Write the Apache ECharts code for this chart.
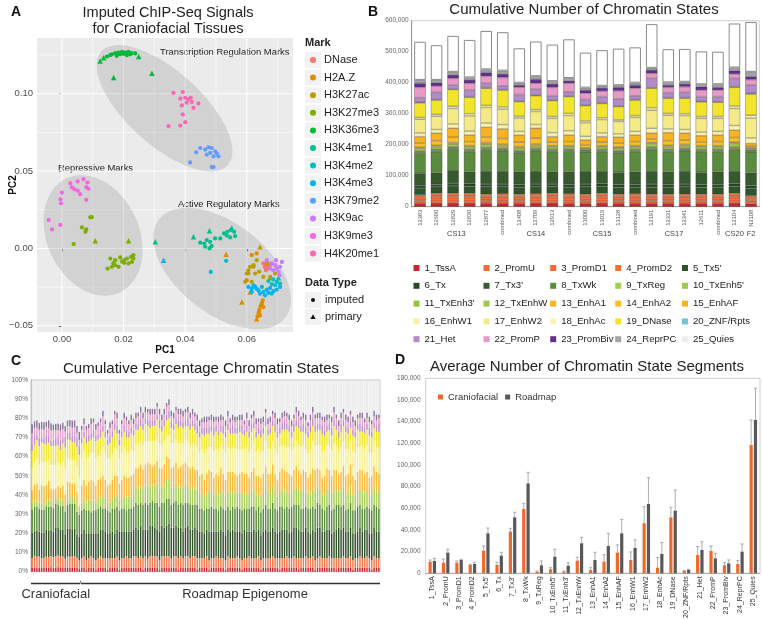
<!DOCTYPE html>
<html><head><meta charset="utf-8">
<script src="https://cdn.jsdelivr.net/npm/echarts@6/dist/echarts.min.js"></script>
<style>html,body{margin:0;padding:0;background:#fff}#c{width:762px;height:619px}</style>
</head><body><div id="c"></div><script>
// ================= DATA =================
// ---- Panel A : PCA of imputed ChIP-seq signals ([PC1, PC2, primary?]) ----
const marks = ['DNase','H2A.Z','H3K27ac','H3K27me3','H3K36me3','H3K4me1','H3K4me2','H3K4me3','H3K79me2','H3K9ac','H3K9me3','H4K20me1'];
const ptsDNase = [[0.0659,-0.0119,0],[0.0665,-0.0108,0],[0.0670,-0.0130,0],[0.0662,-0.0141,0],[0.0673,-0.0114,0],[0.0654,-0.0097,0],[0.0667,-0.0093,0],[0.0678,-0.0102,0],[0.0661,-0.0125,0],[0.0668,-0.0120,0],[0.0664,-0.0112,1]];
const ptsH2AZ = [[0.0652,-0.0335,0],[0.0649,-0.0353,0],[0.0645,-0.0374,0],[0.0641,-0.0396,0],[0.0638,-0.0418,0],[0.0635,-0.0439,0],[0.0632,-0.0455,1],[0.0643,-0.0433,0],[0.0654,-0.0379,0],[0.0584,-0.0346,1],[0.0611,-0.0281,1],[0.0605,-0.0162,0],[0.0622,-0.0119,0],[0.0533,-0.0037,1],[0.0600,-0.0205,0],[0.0676,-0.0184,0],[0.0616,-0.0043,0],[0.0632,-0.0032,0],[0.0648,-0.0362,0],[0.0640,-0.0410,0]];
const ptsH3K27ac = [[0.0605,-0.0141,0],[0.0622,-0.0108,0],[0.0632,-0.0076,0],[0.0643,0.0011,1],[0.0627,-0.0162,0],[0.0654,-0.0184,0],[0.0676,-0.0195,0],[0.0616,-0.0216,0],[0.0595,-0.0216,0],[0.0665,-0.0097,0],[0.0692,-0.0162,0],[0.0600,-0.0162,0],[0.0611,-0.0119,0],[0.0640,-0.0150,0]];
const ptsH3K27me3 = [[0.0092,0.0201,0],[0.0097,0.0203,0],[0.0065,0.0136,0],[0.0079,0.0123,0],[0.0076,0.0108,0],[0.0038,0.0028,0],[0.0108,0.0050,1],[0.0216,0.0050,1],[0.0157,-0.0065,0],[0.0173,-0.0076,0],[0.0189,-0.0058,0],[0.0202,-0.0076,0],[0.0211,-0.0065,0],[0.0224,-0.0054,0],[0.0232,-0.0065,0],[0.0227,-0.0087,0],[0.0216,-0.0097,0],[0.0202,-0.0093,0],[0.0173,-0.0108,0],[0.0162,-0.0119,0],[0.0148,-0.0130,0],[0.0184,-0.0119,0],[0.0232,-0.0043,0],[0.0195,-0.0085,0],[0.0167,-0.0095,0]];
const ptsH3K36me3 = [[0.0157,0.1249,0],[0.0173,0.1262,0],[0.0184,0.1266,0],[0.0195,0.1271,0],[0.0205,0.1266,0],[0.0216,0.1271,0],[0.0227,0.1262,0],[0.0238,0.1260,0],[0.0146,0.1240,0],[0.0189,0.1255,0],[0.0211,0.1249,0],[0.0178,0.1245,0],[0.0200,0.1258,0],[0.0162,0.1255,0],[0.0222,0.1255,0],[0.0124,0.1212,1],[0.0135,0.1232,1],[0.0249,0.1240,1],[0.0168,0.1104,1],[0.0292,0.1132,1]];
const ptsH3K4me1 = [[0.0427,0.0076,1],[0.0449,0.0037,0],[0.0462,0.0032,0],[0.0470,0.0054,0],[0.0465,0.0011,0],[0.0479,0.0000,0],[0.0486,0.0015,0],[0.0481,0.0043,0],[0.0479,0.0115,1],[0.0497,0.0065,0],[0.0514,0.0065,0],[0.0526,0.0097,0],[0.0537,0.0108,0],[0.0548,0.0119,0],[0.0559,0.0108,0],[0.0562,0.0080,0],[0.0546,0.0071,0],[0.0535,0.0084,0],[0.0551,0.0132,1],[0.0303,0.0043,1]];
const ptsH3K4me2 = [[0.0533,-0.0080,0],[0.0697,-0.0216,0],[0.0708,-0.0227,0],[0.0686,-0.0200,0],[0.0670,-0.0211,0],[0.0703,-0.0189,1],[0.0681,-0.0230,0]];
const ptsH3K4me3 = [[0.0330,-0.0076,1],[0.0483,-0.0152,0],[0.0605,-0.0249,0],[0.0616,-0.0260,0],[0.0627,-0.0249,0],[0.0638,-0.0271,0],[0.0649,-0.0249,0],[0.0654,-0.0281,0],[0.0665,-0.0266,0],[0.0676,-0.0255,0],[0.0686,-0.0276,0],[0.0697,-0.0266,0],[0.0708,-0.0249,0],[0.0616,-0.0281,0],[0.0643,-0.0292,0],[0.0659,-0.0303,0],[0.0670,-0.0287,0],[0.0681,-0.0292,0],[0.0622,-0.0238,0],[0.0692,-0.0238,0],[0.0632,-0.0260,0]];
const ptsH3K79me2 = [[0.0449,0.0649,0],[0.0465,0.0639,0],[0.0476,0.0654,0],[0.0486,0.0649,0],[0.0497,0.0628,0],[0.0503,0.0613,0],[0.0481,0.0617,0],[0.0470,0.0606,0],[0.0492,0.0595,0],[0.0508,0.0595,0],[0.0436,0.0621,0],[0.0416,0.0556,0],[0.0486,0.0526,0],[0.0492,0.0526,0]];
const ptsH3K9ac = [[0.0681,-0.0097,0],[0.0692,-0.0108,0],[0.0697,-0.0130,0],[0.0708,-0.0119,0],[0.0703,-0.0152,0],[0.0686,-0.0141,0],[0.0714,-0.0087,0],[0.0676,-0.0130,0],[0.0665,-0.0076,0],[0.0695,-0.0076,0],[0.0706,-0.0173,0]];
const ptsH3K9me3 = [[0.0027,0.0422,0],[0.0032,0.0396,0],[0.0051,0.0433,0],[0.0070,0.0448,0],[0.0083,0.0426,0],[0.0079,0.0396,0],[0.0051,0.0374,0],[0.0059,0.0351,0],[0.0086,0.0385,0],[0.0000,0.0361,0],[-0.0005,0.0318,0],[-0.0003,0.0292,0],[0.0079,0.0314,0],[-0.0043,0.0184,0],[-0.0032,0.0123,0],[-0.0005,0.0152,0],[0.0040,0.0383,0]];
const ptsH4K20me1 = [[0.0362,0.1006,0],[0.0392,0.1011,0],[0.0384,0.0968,0],[0.0400,0.0974,0],[0.0418,0.0974,0],[0.0422,0.0946,0],[0.0405,0.0942,0],[0.0389,0.0924,0],[0.0427,0.0909,0],[0.0443,0.0937,0],[0.0392,0.0866,0],[0.0384,0.0794,0],[0.0400,0.0816,0],[0.0346,0.0790,0],[0.0411,0.0963,0]];
const markPoints = [ptsDNase,ptsH2AZ,ptsH3K27ac,ptsH3K27me3,ptsH3K36me3,ptsH3K4me1,ptsH3K4me2,ptsH3K4me3,ptsH3K79me2,ptsH3K9ac,ptsH3K9me3,ptsH4K20me1];
const pcXTicks = [0, 0.02, 0.04, 0.06];
const pcXMinor = [0.01, 0.03, 0.05, 0.07];
const pcYTicks = [-0.05, 0, 0.05, 0.10];
const pcYMinor = [-0.025, 0.025, 0.075, 0.125];
const clusterNames = ['Transcription Regulation Marks','Repressive Marks','Active Regulatory Marks'];
const clusterCenters = [[0.0333,0.0906],[0.0101,0.0084],[0.0520,-0.0130]];

// ---- Panel B : cumulative number of chromatin states (thousands) ----
const samples = ['12383','12690','12829','12830','12877','combined','12408','12709','12913','combined','13000','13019','13128','combined','12191','12331','12341','12611','combined','12104','N2108'];
const stageLabels = ['CS13','CS14','CS15','CS17','CS20','F2'];
const stageAt = [2.2, 7, 11, 15.35, 19, 20];
const states = ['1_TssA','2_PromU','3_PromD1','4_PromD2',"5_Tx5'",'6_Tx',"7_Tx3'",'8_TxWk','9_TxReg',"10_TxEnh5'","11_TxEnh3'",'12_TxEnhW','13_EnhA1','14_EnhA2','15_EnhAF','16_EnhW1','17_EnhW2','18_EnhAc','19_DNase','20_ZNF/Rpts','21_Het','22_PromP','23_PromBiv','24_ReprPC','25_Quies'];
const bTssA   =[11,12,12,12,11,11,11,12,12,11,11,12,11,11,11,11,11,11,11,12,10];
const bPromU  =[10,11,11,11,10,11,10,10,11,11,10,11,10,11,10,10,11,10,10,11,9];
const bPromD1 =[9,11,11,11,11,10,11,10,11,10,10,11,11,10,10,11,10,10,11,11,9];
const bPromD2 =[8,9,9,9,8,9,8,9,9,9,9,9,8,9,9,8,8,9,8,9,7];
const bTx5    =[22,21,24,22,24,23,23,23,22,22,24,22,22,22,23,23,24,22,23,22,24];
const bTx     =[9,8,9,9,9,9,9,9,8,9,9,9,9,9,10,9,9,9,9,9,9];
const bTx3    =[39,38,42,39,42,42,41,42,40,41,42,41,40,41,42,41,42,40,41,41,42];
const bTxWk   =[64,67,68,64,68,66,61,66,64,66,62,62,63,64,70,64,66,66,64,70,67];
const bTxReg  =[2,2,2,2,2,2,2,2,2,2,1,2,2,2,2,2,2,2,2,2,1];
const bTxEnh5 =[3,4,3,4,4,3,3,3,4,3,3,4,3,4,4,4,3,4,4,4,3];
const bTxEnh3 =[2,2,2,2,2,2,2,2,2,2,1,2,2,2,2,2,2,2,2,2,1];
const bTxEnhW =[9,9,9,9,11,9,9,9,9,8,6,9,9,9,11,9,9,9,9,11,6];
const bEnhA1  =[4,4,5,3,5,5,4,5,3,3,2,3,3,3,3,4,4,3,3,4,2];
const bEnhA2  =[13,15,17,13,18,18,14,19,11,13,9,11,12,13,11,15,14,12,13,15,5];
const bEnhAF  =[21,24,29,21,31,31,23,32,18,21,16,18,19,21,19,26,22,20,21,24,9];
const bEnhW1  =[12,12,14,13,14,14,12,12,13,14,12,12,11,12,16,12,12,12,12,15,18];
const bEnhW2  =[44,43,50,49,50,50,43,42,46,49,44,43,40,45,58,44,45,44,42,55,64];
const bEnhAc  =[6,6,7,7,7,7,6,6,6,7,6,6,5,6,8,6,6,6,6,8,9];
const bDNase  =[47,46,54,53,55,54,47,45,51,54,49,46,43,50,63,49,50,47,46,60,68];
const bZNF    =[2,2,2,2,2,2,2,2,2,2,2,2,2,2,2,2,2,2,2,2,3];
const bHet    =[15,23,12,21,14,12,21,19,13,14,18,20,23,12,30,16,17,15,16,27,27];
const bPromP  =[33,20,22,22,23,27,23,19,28,27,20,18,26,24,16,17,18,21,21,14,17];
const bPromBiv=[13,11,11,11,12,11,7,13,11,8,10,10,11,10,11,7,9,11,9,11,10];
const bReprPC =[11,9,10,8,10,11,8,10,9,9,8,7,7,8,7,9,7,8,10,10,15];
const bQuies  =[123,112,116,121,124,124,111,112,118,125,113,115,118,114,141,107,106,106,105,142,161];
const bData = [bTssA,bPromU,bPromD1,bPromD2,bTx5,bTx,bTx3,bTxWk,bTxReg,bTxEnh5,bTxEnh3,bTxEnhW,bEnhA1,bEnhA2,bEnhAF,bEnhW1,bEnhW2,bEnhAc,bDNase,bZNF,bHet,bPromP,bPromBiv,bReprPC,bQuies];
const UNIT = 1000;

// ---- Panel C : cumulative percentage, Roadmap epigenomes (percent per state group) ----
const rTssA = [2,2,1,2,2, 2,1,2,2,2, 2,1,2,2,2, 2,1,2,2,2, 2,2,
 2,2,2,2,1, 2,2,2,2,2, 2,1,2,2,2, 2,2,2,2,1, 2,2,2,2,2, 2,2,1,2,
 2,2,2,1,2, 2,2,2,2,2, 1,2,2,2,2, 2,2,1,2,2, 2,2,2,2,2, 1,2,2,2,
 2,2,2,2,1, 2,2,2,2,2, 2,2,1,2,2, 2,2,2,2,1, 2,2,2,2,2, 2,2,2,1,2, 2,2,2,2,2, 1,2,2,2,2, 2,2,2,1,2, 2,2];
const rProm = [5,6,5,5,6, 5,5,5,6,5, 5,6,5,5,5, 6,5,5,5,6, 5,5,
 6,6,5,6,6, 6,5,6,6,6, 6,5,6,6,6, 6,5,6,6,6, 6,5,6,6,5, 6,6,6,5,
 5,5,6,5,5, 5,6,5,5,5, 5,6,5,5,5, 6,5,5,5,5, 6,5,5,5,6, 5,5,5,5,
 5,6,5,5,6, 5,5,6,5,5, 6,5,6,5,5, 6,5,5,6,5, 5,6,5,5,5, 6,5,5,6,5, 5,6,5,5,6, 5,5,5,6,5, 5,6,5,5,6, 5,5];
const rTx = [13,14,14,13,12, 13,14,13,14,15, 14,13,13,14,13, 14,15,14,14,13, 14,14,
 14,15,15,16,15, 14,15,16,16,15, 14,15,16,15,16, 17,16,15,16,16, 15,14,15,16,15, 14,15,15,14,
 14,13,14,15,14, 14,13,14,15,14, 13,14,14,15,14, 13,14,14,15,14, 13,14,15,14,14, 13,14,15,14,
 14,15,14,13,14, 15,15,14,13,14, 15,16,15,14,14, 15,14,13,14,15, 16,15,14,14,15, 14,13,14,15,16, 15,15,14,14,15, 14,13,14,15,14, 15,14,13,14,15, 14,14];
const rTxWk = [12,11,12,12,11, 12,12,13,12,11, 12,12,11,12,13, 12,11,12,12,11, 12,12,
 12,13,13,12,13, 14,13,12,13,13, 14,13,12,13,14, 13,12,13,13,12, 13,14,13,12,13, 13,12,13,12,
 12,12,11,12,13, 12,12,11,12,12, 13,12,11,12,12, 13,12,12,11,12, 12,13,12,11,12, 12,12,13,12,
 12,13,12,12,13, 12,11,12,13,13, 12,12,13,12,12, 11,12,13,12,12, 13,12,12,11,12, 13,12,12,13,12, 12,12,11,12,13, 12,12,13,12,12, 11,12,13,12,12, 13,12];
const rTxEnh = [4,5,4,5,6, 5,4,5,5,6, 5,4,5,5,6, 6,5,5,6,7, 6,6,
 7,8,8,9,8, 9,10,9,8,9, 10,9,8,9,10, 10,9,8,9,9, 8,9,10,9,8, 9,8,8,7,
 8,7,8,9,8, 7,8,8,9,8, 7,8,9,8,8, 7,8,9,8,8, 7,8,9,8,7, 8,8,9,8,
 8,9,8,7,8, 9,9,8,8,7, 8,9,8,8,9, 8,7,8,9,9, 8,8,7,8,9, 8,8,9,8,7, 8,9,8,8,9, 8,7,8,8,9, 8,8,7,8,9, 8,8];
const rEnhA = [9,10,9,10,11, 10,9,10,10,11, 10,9,10,10,11, 10,9,10,11,10, 10,11,
 10,10,11,11,10, 11,12,11,10,11, 12,11,10,11,12, 11,10,11,11,10, 11,12,11,10,11, 11,10,10,10,
 10,9,10,11,10, 9,10,10,11,10, 9,10,11,10,10, 9,10,11,10,10, 9,10,11,10,9, 10,10,11,10,
 10,11,10,9,10, 11,11,10,10,9, 10,11,10,10,11, 10,9,10,11,11, 10,10,9,10,11, 10,10,11,10,9, 10,11,10,10,11, 10,9,10,10,11, 10,10,9,10,11, 10,10];
const rEnhWeak = [14,15,14,13,14, 15,14,13,14,15, 14,14,13,14,15, 14,13,14,15,14, 13,14,
 12,12,13,12,13, 12,11,12,13,12, 12,13,12,12,11, 12,13,12,12,13, 12,11,12,13,12, 12,13,12,12,
 13,14,13,12,13, 14,13,13,12,13, 14,13,12,13,13, 14,13,12,13,14, 13,12,13,13,14, 13,12,13,13,
 13,12,13,14,13, 12,13,13,14,13, 12,13,13,14,13, 12,13,13,14,13, 12,13,14,13,12, 13,13,14,13,12, 13,13,14,13,12, 13,14,13,12,13, 13,14,13,12,13, 13,14];
const rDNase = [8,7,8,8,7, 8,9,8,7,8, 8,7,8,8,9, 8,7,8,8,7, 8,8,
 8,8,7,8,8, 9,8,7,8,8, 9,8,7,8,8, 9,8,7,8,8, 9,8,7,8,8, 9,8,7,8,
 8,9,8,7,8, 8,9,8,7,8, 8,9,8,7,8, 8,9,8,7,8, 8,9,8,7,8, 8,9,8,7,
 8,8,9,8,7, 8,8,9,8,7, 8,8,9,8,7, 8,8,9,8,7, 8,8,9,8,7, 8,8,9,8,7, 8,8,9,8,7, 8,8,9,8,7, 8,8,9,8,7, 8,8];
const rHet = [3,3,4,3,3, 4,3,3,4,3, 3,3,4,3,3, 4,3,3,3,4, 3,3,
 3,3,3,4,3, 3,3,4,3,3, 3,4,3,3,3, 4,3,3,3,4, 3,3,3,4,3, 3,3,4,3,
 3,4,3,3,3, 4,3,3,3,4, 3,3,3,4,3, 3,3,4,3,3, 3,4,3,3,3, 4,3,3,3,
 3,3,4,3,3, 3,4,3,3,3, 4,3,3,3,4, 3,3,3,4,3, 3,3,4,3,3, 3,4,3,3,3, 4,3,3,3,4, 3,3,3,4,3, 3,3,4,3,3, 3,4];
const rPromP = [4,4,3,4,5, 4,3,4,4,5, 4,3,4,4,5, 4,3,4,4,5, 4,4,
 3,3,4,3,3, 3,4,3,3,3, 4,3,3,3,4, 3,3,3,4,3, 3,3,4,3,3, 3,4,3,3,
 3,3,3,4,3, 3,3,4,3,3, 3,4,3,3,3, 4,3,3,3,4, 3,3,3,4,3, 3,3,4,3,
 3,3,3,4,3, 3,3,4,3,3, 3,4,3,3,3, 4,3,3,3,4, 3,3,3,4,3, 3,3,4,3,3, 3,4,3,3,3, 4,3,3,3,4, 3,3,3,4,3, 3,3];
const rRepr = [2,3,2,2,3, 2,3,2,2,3, 2,2,3,2,2, 3,2,2,3,2, 2,3,
 3,3,2,3,3, 3,2,3,3,3, 2,3,3,3,2, 3,3,3,2,3, 3,3,2,3,3, 3,2,3,3,
 2,3,3,2,3, 3,2,3,3,2, 3,3,2,3,3, 2,3,3,2,3, 3,2,3,3,2, 3,3,2,3,
 3,2,3,3,2, 3,3,2,3,3, 2,3,3,2,3, 3,2,3,3,2, 3,3,2,3,3, 2,3,3,2,3, 3,2,3,3,2, 3,3,2,3,3, 2,3,3,2,3, 3,2];
const roadmapData = [rTssA,rProm,rTx,rTxWk,rTxEnh,rEnhA,rEnhWeak,rDNase,rHet,rPromP,rRepr];
const roadmapIds = [];
for (let i = 1; i <= 129; i++) { if (i !== 60 && i !== 64) roadmapIds.push('E' + String(i).padStart(3,'0')); }
const cGroupNames = ['TssA','Prom','Tx','TxWk','TxEnh','EnhA','EnhWeak','DNase','Het','PromP','Repr','Quies'];
const cGroupStates = [[0],[1,2,3],[4,5,6],[7],[8,9,10,11],[12,13,14],[15,16,17],[18],[19,20],[21],[22,23],[24]];

// ---- Panel D : average number of chromatin state segments (thousands) ----
const dCranio    = [10.8,9.8,9.8,7.7,20.9,7.7,38.5,59.4,1.5,3.7,1.5,11.7,3.1,10.8,19.1,12.3,46.2,5.2,51.7,2.2,16.9,20.6,7.4,8.6,118.5];
const dCranioErr = [1.5,3.4,1.6,0.6,4.3,2.5,3.0,5.2,0.7,1.5,0.7,3.1,2.1,6.4,7.1,7.4,15.3,9.3,9.2,0.3,7.7,4.6,2.4,3.1,23.0];
const dRoad      = [11.4,19.1,12.3,8.6,36.9,16.3,51.7,83.0,7.4,15.4,7.1,27.7,12.3,25.2,36.9,23.4,64.0,17.8,57.8,3.1,21.5,13.8,9.2,20.0,141.5];
const dRoadErr   = [2.4,3.1,0.6,1.6,4.9,3.1,4.6,10.2,4.0,6.8,2.7,5.5,7.1,11.7,12.9,7.4,24.3,10.5,19.1,0.6,7.7,4.7,3.1,7.1,29.3];

// ================= STYLE =================
const FF = '"Liberation Sans", Arial, Helvetica, sans-serif';
const markColors = ['#F8766D','#DE8C00','#B79F00','#7CAE00','#00BA38','#00C08B','#00BFC4','#00B4F0','#619CFF','#C77CFF','#F564E3','#FF64B0'];
const stateColors = ['#c8262f','#f26a3a','#f46a3a','#f0733f','#2f5429','#2a4a25','#365a2e','#5b8b3e','#a3cd55','#a0cb50','#96c244','#9ec84c','#f9b51a','#fbbd2a','#f8b321','#f8f2ad','#f4eb88','#f8f3b6','#f2e42c','#6fc6d8','#b38bc8','#e79ac6','#633090','#a5a5a5','#ffffff'];
const cGroupColors = ['#c8262f','#f27a4c','#33512b','#5b8b3e','#a6cf58','#f9bb35','#f6ef97','#f2e530','#bb92cc','#e8a2c9','#857496','#ffffff'];
const ellipseShapes = [[85,37,42],[63,46,65],[80,45,38]]; // px semi-axes & rotation

// ================= BUILD =================
const nB = samples.length;
const cCats = samples.map((s,i)=>'cf'+i+'_'+s).concat(roadmapIds);
const cSeriesData = cGroupNames.map(()=>[]);
for (let j = 0; j < nB; j++) {
  let tot = 0; bData.forEach(a => tot += a[j]);
  cGroupStates.forEach((idx, g) => { let s = 0; idx.forEach(k => s += bData[k][j]); cSeriesData[g].push(+(s/tot*100).toFixed(2)); });
}
for (let j = 0; j < roadmapIds.length; j++) {
  let s = 0;
  roadmapData.forEach((a, g) => { const v = a[j] || 0; s += v; cSeriesData[g].push(v); });
  cSeriesData[11].push(Math.max(0, 100 - s));
}

const gridLinesA = [].concat(
  pcXTicks.map(v=>[v,0,0,1]), pcXMinor.map(v=>[v,0,0,0]),
  pcYTicks.map(v=>[0,v,1,1]), pcYMinor.map(v=>[0,v,1,0]));

const fmtPC = v => v.toFixed(2).replace('-', '\u2212');
const series = [];
series.push({type:'custom', name:'_grid', xAxisIndex:0, yAxisIndex:0, z:1, silent:true, data:gridLinesA,
  renderItem:(p, api) => {
    const cs = p.coordSys, orient = api.value(2), major = api.value(3);
    const st = {stroke:'#ffffff', lineWidth: major ? 1.1 : 0.55};
    if (orient === 0) { const x = api.coord([api.value(0), 0])[0]; return {type:'line', shape:{x1:x,y1:cs.y,x2:x,y2:cs.y+cs.height}, style:st}; }
    const y = api.coord([0, api.value(1)])[1]; return {type:'line', shape:{x1:cs.x,y1:y,x2:cs.x+cs.width,y2:y}, style:st};
  }});
series.push({type:'custom', name:'_ellipses', xAxisIndex:0, yAxisIndex:0, z:2, silent:true,
  data: clusterCenters.map((c,i)=>[c[0], c[1], i]),
  renderItem:(p, api) => {
    const c = api.coord([api.value(0), api.value(1)]);
    const [a, b, ang] = ellipseShapes[p.dataIndex];
    const t = ang*Math.PI/180, pts = [];
    for (let k = 0; k < 90; k++) { const th = k/90*2*Math.PI, ex = a*Math.cos(th), ey = b*Math.sin(th);
      pts.push([c[0]+ex*Math.cos(t)-ey*Math.sin(t), c[1]+ex*Math.sin(t)+ey*Math.cos(t)]); }
    const cs = p.coordSys;
    return {type:'polygon', shape:{points:pts}, style:{fill:'rgba(128,128,128,0.24)'},
      clipPath:{type:'rect', shape:{x:cs.x, y:cs.y, width:cs.width, height:cs.height}}};
  }});
marks.forEach((m, i) => series.push({type:'scatter', name:m, xAxisIndex:0, yAxisIndex:0, z:3,
  data: markPoints[i], symbol: v => v[2] ? 'triangle' : 'circle', symbolSize: v => v[2] ? 5.5 : 4.2,
  itemStyle:{color:markColors[i], opacity:1}, emphasis:{disabled:true}}));

states.forEach((s, k) => series.push({type:'bar', name:s, xAxisIndex:1, yAxisIndex:1, stack:'B', barWidth:'70%',
  data: bData[k].map(v => v*UNIT),
  itemStyle:{color:stateColors[k], borderColor: k===24 ? '#8a8a8a' : 'rgba(30,30,30,0.55)', borderWidth: k===24 ? 1 : 0.5},
  emphasis:{disabled:true}}));

cGroupNames.forEach((g, k) => series.push({type:'bar', name:'C ' + g, xAxisIndex:2, yAxisIndex:2, stack:'C', barCategoryGap:'38%',
  data: cSeriesData[k],
  itemStyle:{color:cGroupColors[k], borderColor: k===11 ? '#d9d9d9' : 'transparent', borderWidth: k===11 ? 0.5 : 0},
  emphasis:{disabled:true}, silent:true}));

series.push({type:'bar', name:'Craniofacial', xAxisIndex:3, yAxisIndex:3, barWidth:3.2, barGap:'35%', data:dCranio.map(v=>v*UNIT), itemStyle:{color:'#ee6a2b'}, emphasis:{disabled:true}});
series.push({type:'bar', name:'Roadmap', xAxisIndex:3, yAxisIndex:3, barWidth:3.2, barGap:'35%', data:dRoad.map(v=>v*UNIT), itemStyle:{color:'#58585a'}, emphasis:{disabled:true}});
function errSeries(vals, errs, off) {
  return {type:'custom', name:'_err', xAxisIndex:3, yAxisIndex:3, z:5, silent:true,
    data: vals.map((v,i)=>[i, v*UNIT, errs[i]*UNIT]),
    renderItem:(p, api) => {
      const b = api.coord([api.value(0), api.value(1)]), t = api.coord([api.value(0), api.value(1)+api.value(2)]);
      const x = b[0] + off, st = {stroke:'#9a9a9a', lineWidth:0.8};
      return {type:'group', children:[
        {type:'line', shape:{x1:x,y1:b[1],x2:x,y2:t[1]}, style:st},
        {type:'line', shape:{x1:x-1.6,y1:t[1],x2:x+1.6,y2:t[1]}, style:st}]};
    }};
}
series.push(errSeries(dCranio, dCranioErr, -2.16));
series.push(errSeries(dRoad, dRoadErr, 2.16));

const thousands = v => v.toLocaleString('en-US');
const titleStyle = {fontSize:15, fontWeight:'normal', color:'#222', fontFamily:FF};
const letterStyle = {fontSize:14, fontWeight:'bold', color:'#111', fontFamily:FF};
const legendColsB = [0,1,2,3,4].map(c => states.filter((s,i)=> i%5===c));
const legendColX = [413.5, 483.5, 550.2, 615.2, 682];

const option = {
  animation:false, backgroundColor:'#ffffff', textStyle:{fontFamily:FF},
  title:[
    {text:'A', left:11, top:5, padding:0, textStyle:letterStyle},
    {text:'Imputed ChIP-Seq Signals\nfor Craniofacial Tissues', left:168, top:5, padding:0, textAlign:'center', textStyle:{fontSize:14.5, fontWeight:'normal', color:'#222', lineHeight:16, fontFamily:FF}},
    {text:'B', left:368, top:5, padding:0, textStyle:letterStyle},
    {text:'Cumulative Number of Chromatin States', left:584, top:2, padding:0, textAlign:'center', textStyle:titleStyle},
    {text:'C', left:11, top:354, padding:0, textStyle:letterStyle},
    {text:'Cumulative Percentage Chromatin States', left:201, top:361, padding:0, textAlign:'center', textStyle:titleStyle},
    {text:'D', left:395, top:353, padding:0, textStyle:letterStyle},
    {text:'Average Number of Chromatin State Segments', left:587, top:359, padding:0, textAlign:'center', textStyle:titleStyle}
  ],
  grid:[
    {left:37, top:38, width:256, height:294, show:true, backgroundColor:'#ebebeb', borderWidth:0, outerBoundsMode:'none'},
    {left:411.7, top:20.7, width:347.6, height:186, show:true, borderColor:'#c4c4c4', borderWidth:0.8, outerBoundsMode:'none'},
    {left:31, top:380, width:349, height:191.7, show:true, borderColor:'#b5b5b5', borderWidth:0.8, outerBoundsMode:'none'},
    {left:425.6, top:378.3, width:334.4, height:195, show:true, borderColor:'#c4c4c4', borderWidth:0.8, outerBoundsMode:'none'}
  ],
  xAxis:[
    {gridIndex:0, type:'value', min:-0.0081, max:0.075, splitLine:{show:false}, axisLine:{show:false},
     axisTick:{show:true, customValues:pcXTicks, length:3, lineStyle:{color:'#333'}},
     axisLabel:{customValues:pcXTicks, formatter:fmtPC, fontSize:9.5, color:'#4d4d4d', margin:2},
     name:'PC1', nameLocation:'middle', nameGap:13.5, nameMoveOverlap:false, nameTextStyle:{fontWeight:'bold', fontSize:10, color:'#111'}},
    {gridIndex:1, type:'category', data:samples.map((s,i)=>i+'|'+s), axisTick:{show:false}, axisLine:{lineStyle:{color:'#999'}},
     axisLabel:{interval:0, rotate:90, fontSize:5.8, color:'#555', margin:3, formatter:v=>v.split('|')[1]}},
    {gridIndex:2, type:'category', data:cCats, axisTick:{show:false}, axisLabel:{show:false}, axisLine:{show:false}},
    {gridIndex:3, type:'category', data:states, axisTick:{show:false}, axisLine:{lineStyle:{color:'#aaa'}},
     axisLabel:{interval:0, rotate:90, fontSize:7, color:'#333', margin:3}}
  ],
  yAxis:[
    {gridIndex:0, type:'value', min:-0.054, max:0.136, splitLine:{show:false}, axisLine:{show:false},
     axisTick:{show:true, customValues:pcYTicks, length:3, lineStyle:{color:'#333'}},
     axisLabel:{customValues:pcYTicks, formatter:fmtPC, fontSize:9.5, color:'#4d4d4d', margin:4},
     name:'PC2', nameLocation:'middle', nameGap:19, nameRotate:90, nameMoveOverlap:false, nameTextStyle:{fontWeight:'bold', fontSize:10, color:'#111'}},
    {gridIndex:1, type:'value', min:0, max:600000, interval:100000, splitLine:{show:false}, axisTick:{show:false},
     axisLine:{show:true, lineStyle:{color:'#999'}}, axisLabel:{fontSize:6.5, color:'#666', margin:3, formatter:thousands}},
    {gridIndex:2, type:'value', min:0, max:100, interval:10, splitLine:{show:false}, axisTick:{show:false},
     axisLine:{show:true, lineStyle:{color:'#999'}}, axisLabel:{fontSize:6.5, color:'#666', margin:3, formatter:'{value}%'}},
    {gridIndex:3, type:'value', min:0, max:180000, interval:20000, splitLine:{show:false}, axisTick:{show:false},
     axisLine:{show:false}, axisLabel:{fontSize:6.5, color:'#666', margin:5, formatter:thousands}}
  ],
  legend:[
    {data:marks, orient:'vertical', left:310, top:53.5, padding:0, itemWidth:6, itemHeight:6, itemGap:4.6, icon:'circle', selectedMode:false,
     textStyle:{fontSize:11, color:'#222', lineHeight:13, padding:[0,0,0,3]}, z:5}
  ].concat(legendColsB.map((col, c) => ({data: col.map(n => n === '25_Quies' ? {name:n, itemStyle:{color:'#eeeeee', borderWidth:0}} : n),
     orient:'vertical', left:legendColX[c], top:262, padding:0, itemWidth:6, itemHeight:6, itemGap:5.8, icon:'rect', selectedMode:false,
     itemStyle:{borderWidth:0}, textStyle:{fontSize:9.6, color:'#222', lineHeight:12}}))).concat([
    {data:['Craniofacial','Roadmap'], left:438, top:392, padding:0, itemWidth:5, itemHeight:5, itemGap:7, icon:'rect', selectedMode:false,
     textStyle:{fontSize:9.5, color:'#333'}}
  ]),
  series: series
};
const chart = echarts.init(document.getElementById('c'), null, {renderer:'canvas', width:762, height:619});
chart.setOption(option);

// ---------- annotations computed from the axes ----------
const g = [];
const tA = (txt, x, y, opt) => g.push(Object.assign({type:'text', x, y, style:Object.assign({text:txt, fill:'#222', font:'9.4px '+FF, textAlign:'left', textVerticalAlign:'middle'}, opt||{})}));
tA(clusterNames[0], 160, 52);
tA(clusterNames[1], 58, 168);
tA(clusterNames[2], 178, 204);
// Mark legend key backgrounds
marks.forEach((m, i) => g.push({type:'rect', z:1, shape:{x:305, y:60+17.6*i-8, width:16, height:16}, style:{fill:'#f2f2f2'}}));
tA('Mark', 305, 43, {font:'bold 11px '+FF});
tA('Data Type', 305, 283, {font:'bold 11px '+FF});
[300, 317].forEach(y => g.push({type:'rect', z:1, shape:{x:305, y:y-8, width:16, height:16}, style:{fill:'#f2f2f2'}}));
g.push({type:'circle', z:3, shape:{cx:313, cy:300, r:2}, style:{fill:'#111'}});
g.push({type:'polygon', z:3, shape:{points:[[313,314.3],[315.6,319],[310.4,319]]}, style:{fill:'#111'}});
tA('imputed', 325, 300, {font:'11px '+FF});
tA('primary', 325, 317, {font:'11px '+FF});
// stage labels in B
stageLabels.forEach((s, i) => {
  const i0 = Math.floor(stageAt[i]), f = stageAt[i] - i0;
  const p0 = chart.convertToPixel({xAxisIndex:1}, i0 + '|' + samples[i0]);
  const pitch = 347.6 / nB;
  g.push({type:'text', x:p0 + f*pitch, y:234, style:{text:s, fill:'#444', font:'7.5px '+FF, textAlign:'center', textVerticalAlign:'middle'}});
});
// bracket under C
const pitchC = 349 / cCats.length;
const cx0 = chart.convertToPixel({xAxisIndex:2}, cCats[0]) - pitchC/2;
const cxSplit = chart.convertToPixel({xAxisIndex:2}, cCats[nB-1]) + pitchC/2;
const cxEnd = chart.convertToPixel({xAxisIndex:2}, cCats[cCats.length-1]) + pitchC/2;
const yBr = 583.5;
g.push({type:'line', shape:{x1:cx0, y1:yBr, x2:cxSplit-0.5, y2:yBr}, style:{stroke:'#333', lineWidth:1.4}});
g.push({type:'line', shape:{x1:cxSplit+0.5, y1:yBr, x2:cxEnd, y2:yBr}, style:{stroke:'#333', lineWidth:1.4}});
g.push({type:'line', shape:{x1:cxSplit, y1:yBr, x2:cxSplit, y2:yBr-3}, style:{stroke:'#666', lineWidth:0.8}});
g.push({type:'text', x:(cx0+cxSplit)/2, y:594, style:{text:'Craniofacial', fill:'#333', font:'13px '+FF, textAlign:'center', textVerticalAlign:'middle'}});
g.push({type:'text', x:245, y:594, style:{text:'Roadmap Epigenome', fill:'#333', font:'13px '+FF, textAlign:'center', textVerticalAlign:'middle'}});
chart.setOption({graphic:g});
</script></body></html>
